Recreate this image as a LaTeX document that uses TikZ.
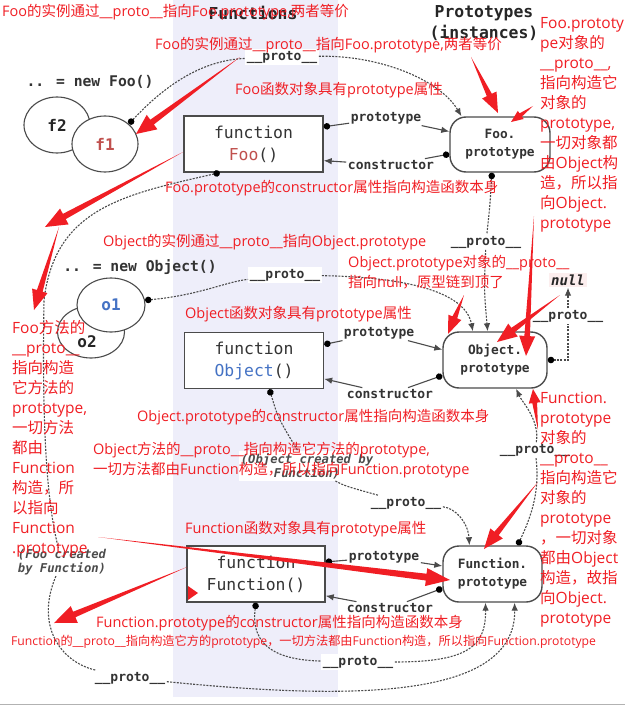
\documentclass[tikz,border=0pt]{standalone}
\usepackage{fontspec}
\usetikzlibrary{arrows.meta,calc,shapes.geometric}
\newfontfamily\mono[ItalicFont={DejaVu Sans Mono Oblique},BoldFont={DejaVu Sans Mono Bold},BoldItalicFont={DejaVu Sans Mono Bold Oblique}]{DejaVu Sans Mono}
\newfontfamily\notelatin{Open Sans}
\newfontfamily\cjk{Noto Sans CJK SC}
% CJK runs switch to the CJK font by themselves
\XeTeXinterchartokenstate=1
\newXeTeXintercharclass\cjkcls
\newcount\cjkc
\cjkc="3000 \loop\ifnum\cjkc<"3040 \XeTeXcharclass\cjkc=\cjkcls \advance\cjkc 1 \repeat
\cjkc="4E00 \loop\ifnum\cjkc<"A000 \XeTeXcharclass\cjkc=\cjkcls \advance\cjkc 1 \repeat
\cjkc="FF00 \loop\ifnum\cjkc<"FFF0 \XeTeXcharclass\cjkc=\cjkcls \advance\cjkc 1 \repeat
\XeTeXinterchartoks 0 \cjkcls = {\begingroup\cjk}
\XeTeXinterchartoks 4095 \cjkcls = {\begingroup\cjk}
\XeTeXinterchartoks \cjkcls 0 = {\endgroup}
\XeTeXinterchartoks \cjkcls 4095 = {\endgroup}
\definecolor{annored}{RGB}{240,30,36}
\definecolor{band}{RGB}{238,238,250}
\definecolor{ink}{RGB}{75,75,75}
\definecolor{foored}{RGB}{192,80,77}
\definecolor{objblue}{RGB}{68,114,196}
\definecolor{nullpink}{RGB}{252,238,238}
% tapered red marker arrow: tail, head, head length, barb, shaft
\newcommand\redarrow[5]{
  \fill[annored] (#1)
    -- ($(#2)!#3!(#1)!#5!90:(#2)$)
    -- ($(#2)!#3!(#1)!#4!90:(#2)$)
    -- (#2)
    -- ($(#2)!#3!(#1)!#4!-90:(#2)$)
    -- ($(#2)!#3!(#1)!#5!-90:(#2)$)
    -- cycle;
}

\begin{document}
\begin{tikzpicture}[x=1pt, y=-1pt,
  fnbox/.style = {draw=ink, line width=1.4pt, fill=white, minimum width=139pt, minimum height=56pt, align=center, text=black!80, font=\mono\fontsize{16.4}{22}\selectfont},
  protobox/.style = {draw=ink, line width=1.4pt, fill=white, rounded corners=16pt, minimum width=100pt, minimum height=55pt, align=center, text=black!80, font=\mono\bfseries\fontsize{12.8}{18}\selectfont},
  inst/.style = {ellipse, draw=ink, line width=1.1pt, fill=white, minimum width=66pt, minimum height=56pt, inner sep=0pt, text=black!85, font=\mono\bfseries\fontsize{16}{16}\selectfont},
  lbl/.style = {fill=white, inner sep=1.5pt, text=black!80, font=\mono\bfseries\fontsize{13}{13}\selectfont},
  made/.style = {fill=white, inner sep=2pt, align=center, text=black!70, font=\mono\bfseries\itshape\fontsize{12.2}{14}\selectfont},
  txt/.style = {text=black!80, font=\mono\bfseries\fontsize{14.7}{14.7}\selectfont},
  edge/.style = {draw=ink, line width=1.1pt},
  proto/.style = {draw=ink, line width=1.1pt, dash pattern=on 2pt off 1.3pt},
  fromdot/.style = {{Circle[length=6.5pt,color=black]}-},
  todart/.style = {-{Latex[length=8pt,width=6.5pt]}},
  dotdart/.style = {{Circle[length=6.5pt,color=black]}-{Latex[length=8pt,width=6.5pt]}},
  note/.style = {anchor=west, inner sep=0pt, text=annored, font=\notelatin\fontsize{14.5}{20}\selectfont},
  notecol/.style = {note, anchor=north west, align=left, font=\notelatin\fontsize{15.5}{20}\selectfont}]
\useasboundingbox (0,0) rectangle (625,706);
\fill[band] (173,0) rectangle (338,697);
\draw[black!30, line width=1.5pt] (0,704.5) -- (625,704.5);

% headings
\node[font=\mono\bfseries\fontsize{16.4}{16}\selectfont, text=black!85] (hfun) at (253,13) {Functions};
\node[align=center, font=\mono\bfseries\fontsize{16.4}{21}\selectfont, text=black!85] (hproto) at (484,23) {Prototypes\\(instances)};
\node[txt] (newfoo) at (90,82) {.. = new Foo()};
\node[txt] (newobj) at (140,267) {.. = new Object()};

% instances
\node[inst] (f2) at (57,125) {f2};
\node[inst, text=foored] (f1) at (105,144) {f1};
\node[inst, minimum width=67pt, minimum height=52pt] (o2) at (91,332) {};
\node[inst, inner sep=0pt, draw=none, fill=none] (o2lbl) at (87,342) {o2};
\node[inst, text=objblue, minimum width=68pt, minimum height=54pt] (o1) at (111,305) {o1};

% constructors and prototypes
\node[fnbox] (foofn) at (253.5,144) {function\\\textcolor{foored}{Foo}()};
\node[fnbox] (objfn) at (254,360.5) {function\\\textcolor{objblue}{Object}()};
\node[fnbox, minimum width=138pt] (funfn) at (256,574) {function\\Function()};
\node[protobox] (fooproto) at (500,144.5) {Foo.\\prototype};
\node[protobox, minimum width=104pt, minimum height=56pt] (objproto) at (495,360) {Object.\\prototype};
\node[protobox, minimum width=99pt, minimum height=56pt] (funproto) at (492.5,574) {Function.\\prototype};
\node[fill=nullpink, inner sep=2pt, text=black!85, font=\mono\bfseries\itshape\fontsize{14}{14}\selectfont] (nullnode) at (568,280) {null};

% link labels
\node[lbl] (fp1) at (386,118) {prototype};
\node[lbl] (fc1) at (391,165) {constructor};
\node[lbl] (op1) at (379,333) {prototype};
\node[lbl] (oc1) at (390,394) {constructor};
\node[lbl] (np1) at (384,557) {prototype};
\node[lbl] (nc1) at (390,608) {constructor};
\node[lbl] (pf1) at (282,57) {\_\_proto\_\_};
\node[lbl] (pfp) at (486,242) {\_\_proto\_\_};
\node[lbl] (po1) at (285,275) {\_\_proto\_\_};
\node[lbl] (pobj) at (406,503) {\_\_proto\_\_};
\node[lbl] (pfun2) at (535,450) {\_\_proto\_\_};
\node[lbl] (pfun) at (358,662) {\_\_proto\_\_};
\node[lbl] (pfoo) at (130,678) {\_\_proto\_\_};
\node[made] (objmade) at (307,466) {(Object created by\\Function)};
\node[made, inner sep=1pt] (foomade) at (62,562) {(Foo created\\by Function)};

% prototype / constructor
\draw[edge, fromdot] ($(foofn.north east)!0.2!(foofn.south east)$) -- (fp1);
\draw[edge, todart] (fp1) -- ($(fooproto.north west)!0.27!(fooproto.south west)$);
\draw[edge, fromdot] ($(fooproto.north west)!0.67!(fooproto.south west)$) -- (fc1);
\draw[edge, todart] (fc1) -- ($(foofn.north east)!0.79!(foofn.south east)$);
\draw[edge, fromdot] ($(objfn.north east)!0.22!(objfn.south east)$) -- (op1);
\draw[edge, todart] (op1) -- ($(objproto.north west)!0.32!(objproto.south west)$);
\draw[edge, fromdot] ($(objproto.north west)!0.77!(objproto.south west)$) -- (oc1);
\draw[edge, todart] (oc1) -- ($(objfn.north east)!0.82!(objfn.south east)$);
\draw[edge, fromdot] ($(funfn.north east)!0.29!(funfn.south east)$) -- (np1);
\draw[edge, todart] (np1) -- ($(funproto.north west)!0.36!(funproto.south west)$);
\draw[edge, fromdot] ($(funproto.north west)!0.75!(funproto.south west)$) -- (nc1);
\draw[edge, todart] (nc1) -- ($(funfn.north east)!0.88!(funfn.south east)$);

% __proto__ chains
\draw[proto, fromdot] (f1.40) .. controls (168,82) and (205,60) .. (pf1);
\draw[proto, todart] (pf1) .. controls (380,55) and (440,80) .. ($(fooproto.north west)!0.12!(fooproto.north east)$);
\draw[proto, fromdot] ($(fooproto.south west)!0.42!(fooproto.south east)$) .. controls (490,205) .. (pfp);
\draw[proto, todart] (pfp) .. controls (484,290) .. ($(objproto.north west)!0.43!(objproto.north east)$);
\draw[proto, fromdot] (o1.8) .. controls (200,295) and (225,282) .. (po1);
\draw[proto, todart] (po1) .. controls (400,277) and (465,290) .. ($(objproto.north west)!0.29!(objproto.north east)$);
\draw[proto, dotdart] (objproto.east) -| (nullnode) node[lbl, pos=0.8] (pnull) {\_\_proto\_\_};
\draw[proto, fromdot] ($(objfn.south west)!0.61!(objfn.south east)$) .. controls (278,418) .. (objmade);
\draw[proto] (objmade) .. controls (345,486) .. (pobj);
\draw[proto, todart] (pobj) .. controls (455,508) and (468,522) .. ($(funproto.north west)!0.27!(funproto.north east)$);
\draw[proto, fromdot] ($(funproto.north west)!0.75!(funproto.north east)$) .. controls (532,515) and (540,490) .. (pfun2);
\draw[proto, todart] (pfun2) .. controls (540,420) and (522,402) .. ($(objproto.south west)!0.70!(objproto.south east)$);
\draw[proto, fromdot] (funfn.south) .. controls (250,648) and (280,660) .. (pfun);
\draw[proto, todart] (pfun) .. controls (470,662) and (486,645) .. ($(funproto.south west)!0.43!(funproto.south east)$);
\draw[proto, fromdot] ($(foofn.south west)!0.26!(foofn.south east)$) .. controls (120,195) and (55,210) .. (44,300) .. controls (42,420) and (46,500) .. (foomade);
\draw[proto] (foomade) .. controls (35,625) and (60,662) .. (pfoo);
\draw[proto, todart] (pfoo) .. controls (350,700) and (516,700) .. ($(funproto.south west)!0.72!(funproto.south east)$);

% red notes
\node[note] (n1) at (2,12) {Foo的实例通过\_\_proto\_\_指向Foo.prototype,两者等价};
\node[note] (n2) at (155,45) {Foo的实例通过\_\_proto\_\_指向Foo.prototype,两者等价};
\node[note] (n3) at (235,90) {Foo函数对象具有prototype属性};
\node[note] (n4) at (165,188) {Foo.prototype的constructor属性指向构造函数本身};
\node[notecol] (n5) at (540,17) {Foo.prototy\\pe对象的\\\_\_proto\_\_,\\指向构造它\\对象的\\prototype,\\一切对象都\\由Object构\\造，所以指\\向Object.\\prototype};
\node[note] (n6) at (103,242) {Object的实例通过\_\_proto\_\_指向Object.prototype};
\node[notecol, font=\notelatin\fontsize{14.5}{20}\selectfont] (n7) at (348,255) {Object.prototype对象的\_\_proto\_\_\\指向null，原型链到顶了};
\node[note] (n8) at (185,314) {Object函数对象具有prototype属性};
\node[notecol] (n9) at (12,320) {Foo方法的\\\_\_proto\_\_\\指向构造\\它方法的\\prototype,\\一切方法\\都由\\Function\\构造，所\\以指向\\Function\\.prototype};
\node[note] (n10) at (137,417) {Object.prototype的constructor属性指向构造函数本身};
\node[notecol, font=\notelatin\fontsize{14.5}{20}\selectfont] (n11) at (93,442) {Object方法的\_\_proto\_\_指向构造它方法的prototype,\\一切方法都由Function构造，所以指向Function.prototype};
\node[note] (n12) at (185,529) {Function函数对象具有prototype属性};
\node[notecol] (n15) at (540,392) {Function.\\prototype\\对象的\\\_\_proto\_\_\\指向构造它\\对象的\\prototype\\，一切对象\\都由Object\\构造，故指\\向Object.\\prototype};
\node[note] (n13) at (96,623) {Function.prototype的constructor属性指向构造函数本身};
\node[note, font=\notelatin\fontsize{12.2}{14}\selectfont] (n14) at (11,642) {Function的\_\_proto\_\_指向构造它方的prototype，一切方法都由Function构造，所以指向Function.prototype};

% red markers
\coordinate (a1t) at (240,57);  \coordinate (a1h) at (136,134);
\coordinate (a2t) at (471,57);  \coordinate (a2h) at (498,113);
\coordinate (a3t) at (533,106); \coordinate (a3h) at (511,122);
\coordinate (a4t) at (183,152); \coordinate (a4h) at (45,227);
\coordinate (a5t) at (59,227);  \coordinate (a5h) at (34,310);
\coordinate (a6t) at (464,295); \coordinate (a6h) at (448,334);
\coordinate (a7t) at (560,295); \coordinate (a7h) at (497,342);
\coordinate (a8t) at (534,216); \coordinate (a8h) at (526,356);
\coordinate (a9t) at (538,430); \coordinate (a9h) at (533,389);
\coordinate (a10t) at (538,482); \coordinate (a10h) at (484,549);
\coordinate (a11t) at (98,537); \coordinate (a11h) at (450,580);
\coordinate (a12t) at (187,567); \coordinate (a12h) at (54,623);
\redarrow{a1t}{a1h}{20pt}{9pt}{3pt}
\redarrow{a2t}{a2h}{20pt}{8pt}{2.8pt}
\redarrow{a3t}{a3h}{12pt}{5pt}{2pt}
\redarrow{a4t}{a4h}{22pt}{9pt}{3pt}
\redarrow{a5t}{a5h}{20pt}{8pt}{3pt}
\redarrow{a6t}{a6h}{18pt}{7pt}{2.6pt}
\redarrow{a7t}{a7h}{20pt}{8pt}{2.8pt}
\redarrow{a8t}{a8h}{20pt}{8pt}{2.8pt}
\redarrow{a9t}{a9h}{14pt}{6pt}{2.4pt}
\redarrow{a10t}{a10h}{20pt}{8pt}{2.8pt}
\redarrow{a11t}{a11h}{24pt}{9pt}{3.4pt}
\redarrow{a12t}{a12h}{22pt}{9pt}{3pt}
\fill[annored] (188,586) -- (198,593) -- (188,600) -- cycle;
\end{tikzpicture}
\end{document}
